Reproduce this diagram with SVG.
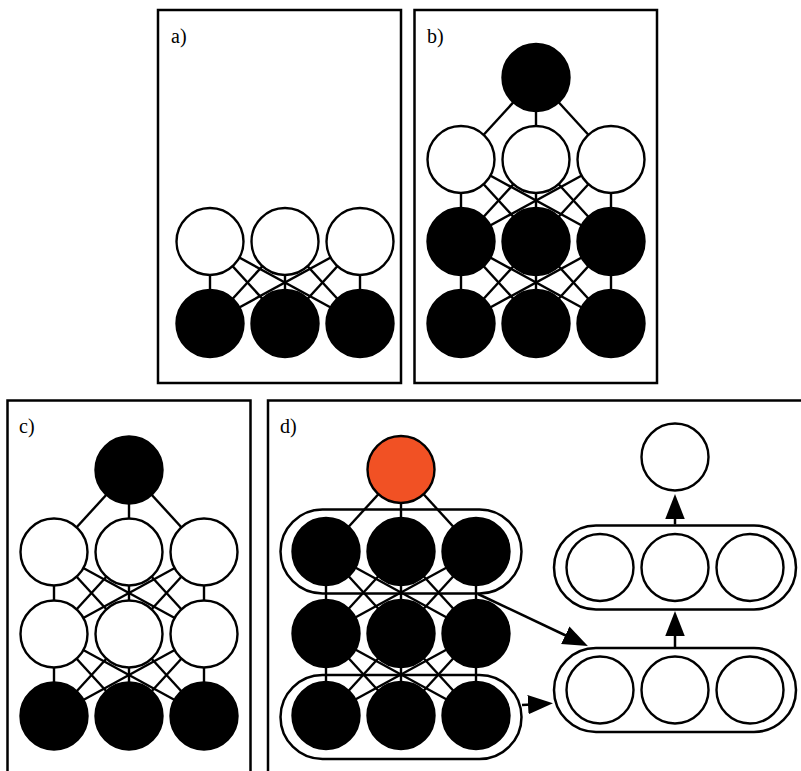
<svg xmlns="http://www.w3.org/2000/svg" width="801" height="771" viewBox="0 0 801 771">
<style>
.frame{fill:none;stroke:#000;stroke-width:2.5}
.lbl{font-family:"Liberation Serif","DejaVu Serif",serif;font-size:20px;fill:#000}
.e line{stroke:#000;stroke-width:2.4}
.w{fill:#fff;stroke:#000;stroke-width:2.4}
.k{fill:#000;stroke:#000;stroke-width:2.4}
.o{fill:#f15124;stroke:#000;stroke-width:2.4}
.pill{fill:none;stroke:#000;stroke-width:2.5}
.arr{stroke:#000;stroke-width:2.5;fill:none;marker-end:url(#ah)}
</style>
<defs>
<marker id="ah" markerUnits="userSpaceOnUse" markerWidth="27" markerHeight="20" refX="4" refY="9.75" orient="auto" viewBox="0 0 27 20">
<path d="M0,0 L25,9.75 L0,19.5 Z" fill="#000"/>
</marker>
</defs>
<rect fill="#fff" width="801" height="771"/>

<g id="frames">
<rect class="frame" x="158" y="10" width="243" height="373"/>
<rect class="frame" x="414.5" y="10" width="242.5" height="373"/>
<rect class="frame" x="7.5" y="400.5" width="243" height="400"/>
<rect class="frame" x="268" y="400.5" width="560" height="400"/>
</g>
<g id="labels">
<text class="lbl" x="171" y="43">a)</text>
<text class="lbl" x="427" y="43">b)</text>
<text class="lbl" x="19" y="433">c)</text>
<text class="lbl" x="280" y="433">d)</text>
</g>

<g id="pills">
<rect class="pill" x="280.5" y="509.5" width="241" height="84" rx="42"/>
<rect class="pill" x="280.5" y="675" width="241" height="84" rx="42"/>
<rect class="pill" x="554" y="525.5" width="242" height="84" rx="42"/>
<rect class="pill" x="554" y="648" width="242" height="84" rx="42"/>
</g>

<g id="connectors" class="e">
<!-- panel a -->
<line x1="210" y1="241.5" x2="210" y2="323.5"/><line x1="210" y1="241.5" x2="285" y2="323.5"/><line x1="210" y1="241.5" x2="360" y2="323.5"/>
<line x1="285" y1="241.5" x2="210" y2="323.5"/><line x1="285" y1="241.5" x2="285" y2="323.5"/><line x1="285" y1="241.5" x2="360" y2="323.5"/>
<line x1="360" y1="241.5" x2="210" y2="323.5"/><line x1="360" y1="241.5" x2="285" y2="323.5"/><line x1="360" y1="241.5" x2="360" y2="323.5"/>
<!-- panel b -->
<line x1="536" y1="77.5" x2="461" y2="159.5"/><line x1="536" y1="77.5" x2="536" y2="159.5"/><line x1="536" y1="77.5" x2="611" y2="159.5"/>
<line x1="461" y1="159.5" x2="461" y2="241.5"/><line x1="461" y1="159.5" x2="536" y2="241.5"/><line x1="461" y1="159.5" x2="611" y2="241.5"/>
<line x1="536" y1="159.5" x2="461" y2="241.5"/><line x1="536" y1="159.5" x2="536" y2="241.5"/><line x1="536" y1="159.5" x2="611" y2="241.5"/>
<line x1="611" y1="159.5" x2="461" y2="241.5"/><line x1="611" y1="159.5" x2="536" y2="241.5"/><line x1="611" y1="159.5" x2="611" y2="241.5"/>
<line x1="461" y1="241.5" x2="461" y2="323.5"/><line x1="461" y1="241.5" x2="536" y2="323.5"/><line x1="461" y1="241.5" x2="611" y2="323.5"/>
<line x1="536" y1="241.5" x2="461" y2="323.5"/><line x1="536" y1="241.5" x2="536" y2="323.5"/><line x1="536" y1="241.5" x2="611" y2="323.5"/>
<line x1="611" y1="241.5" x2="461" y2="323.5"/><line x1="611" y1="241.5" x2="536" y2="323.5"/><line x1="611" y1="241.5" x2="611" y2="323.5"/>
<!-- panel c -->
<line x1="129" y1="470" x2="54" y2="552"/><line x1="129" y1="470" x2="129" y2="552"/><line x1="129" y1="470" x2="204" y2="552"/>
<line x1="54" y1="552" x2="54" y2="634"/><line x1="54" y1="552" x2="129" y2="634"/><line x1="54" y1="552" x2="204" y2="634"/>
<line x1="129" y1="552" x2="54" y2="634"/><line x1="129" y1="552" x2="129" y2="634"/><line x1="129" y1="552" x2="204" y2="634"/>
<line x1="204" y1="552" x2="54" y2="634"/><line x1="204" y1="552" x2="129" y2="634"/><line x1="204" y1="552" x2="204" y2="634"/>
<line x1="54" y1="634" x2="54" y2="716"/><line x1="54" y1="634" x2="129" y2="716"/><line x1="54" y1="634" x2="204" y2="716"/>
<line x1="129" y1="634" x2="54" y2="716"/><line x1="129" y1="634" x2="129" y2="716"/><line x1="129" y1="634" x2="204" y2="716"/>
<line x1="204" y1="634" x2="54" y2="716"/><line x1="204" y1="634" x2="129" y2="716"/><line x1="204" y1="634" x2="204" y2="716"/>
<!-- panel d network -->
<line x1="401" y1="469.5" x2="326" y2="551.5"/><line x1="401" y1="469.5" x2="401" y2="551.5"/><line x1="401" y1="469.5" x2="476" y2="551.5"/>
<line x1="326" y1="551.5" x2="326" y2="633.5"/><line x1="326" y1="551.5" x2="401" y2="633.5"/><line x1="326" y1="551.5" x2="476" y2="633.5"/>
<line x1="401" y1="551.5" x2="326" y2="633.5"/><line x1="401" y1="551.5" x2="401" y2="633.5"/><line x1="401" y1="551.5" x2="476" y2="633.5"/>
<line x1="476" y1="551.5" x2="326" y2="633.5"/><line x1="476" y1="551.5" x2="401" y2="633.5"/><line x1="476" y1="551.5" x2="476" y2="633.5"/>
<line x1="326" y1="633.5" x2="326" y2="715.5"/><line x1="326" y1="633.5" x2="401" y2="715.5"/><line x1="326" y1="633.5" x2="476" y2="715.5"/>
<line x1="401" y1="633.5" x2="326" y2="715.5"/><line x1="401" y1="633.5" x2="401" y2="715.5"/><line x1="401" y1="633.5" x2="476" y2="715.5"/>
<line x1="476" y1="633.5" x2="326" y2="715.5"/><line x1="476" y1="633.5" x2="401" y2="715.5"/><line x1="476" y1="633.5" x2="476" y2="715.5"/>
<!-- panel d arrows -->
<path class="arr" d="M478,594 L568.9,637"/>
<path class="arr" d="M522,705 L532,704.4"/>
<path class="arr" d="M675,647 L675,632"/>
<path class="arr" d="M675,524.5 L675,515"/>
</g>

<g id="a_h1"><circle class="w" cx="210" cy="241.5" r="33.5"/></g>
<g id="a_h2"><circle class="w" cx="285" cy="241.5" r="33.5"/></g>
<g id="a_h3"><circle class="w" cx="360" cy="241.5" r="33.5"/></g>
<g id="a_v1"><circle class="k" cx="210" cy="323.5" r="33.5"/></g>
<g id="a_v2"><circle class="k" cx="285" cy="323.5" r="33.5"/></g>
<g id="a_v3"><circle class="k" cx="360" cy="323.5" r="33.5"/></g>

<g id="b_top"><circle class="k" cx="536" cy="77.5" r="33.5"/></g>
<g id="b_h1"><circle class="w" cx="461" cy="159.5" r="33.5"/></g>
<g id="b_h2"><circle class="w" cx="536" cy="159.5" r="33.5"/></g>
<g id="b_h3"><circle class="w" cx="611" cy="159.5" r="33.5"/></g>
<g id="b_m1"><circle class="k" cx="461" cy="241.5" r="33.5"/></g>
<g id="b_m2"><circle class="k" cx="536" cy="241.5" r="33.5"/></g>
<g id="b_m3"><circle class="k" cx="611" cy="241.5" r="33.5"/></g>
<g id="b_v1"><circle class="k" cx="461" cy="323.5" r="33.5"/></g>
<g id="b_v2"><circle class="k" cx="536" cy="323.5" r="33.5"/></g>
<g id="b_v3"><circle class="k" cx="611" cy="323.5" r="33.5"/></g>

<g id="c_top"><circle class="k" cx="129" cy="470" r="33.5"/></g>
<g id="c_h1"><circle class="w" cx="54" cy="552" r="33.5"/></g>
<g id="c_h2"><circle class="w" cx="129" cy="552" r="33.5"/></g>
<g id="c_h3"><circle class="w" cx="204" cy="552" r="33.5"/></g>
<g id="c_m1"><circle class="w" cx="54" cy="634" r="33.5"/></g>
<g id="c_m2"><circle class="w" cx="129" cy="634" r="33.5"/></g>
<g id="c_m3"><circle class="w" cx="204" cy="634" r="33.5"/></g>
<g id="c_v1"><circle class="k" cx="54" cy="716" r="33.5"/></g>
<g id="c_v2"><circle class="k" cx="129" cy="716" r="33.5"/></g>
<g id="c_v3"><circle class="k" cx="204" cy="716" r="33.5"/></g>

<g id="d_top"><circle class="o" cx="401" cy="469.5" r="33.5"/></g>
<g id="d_r1a"><circle class="k" cx="326" cy="551.5" r="33.5"/></g>
<g id="d_r1b"><circle class="k" cx="401" cy="551.5" r="33.5"/></g>
<g id="d_r1c"><circle class="k" cx="476" cy="551.5" r="33.5"/></g>
<g id="d_r2a"><circle class="k" cx="326" cy="633.5" r="33.5"/></g>
<g id="d_r2b"><circle class="k" cx="401" cy="633.5" r="33.5"/></g>
<g id="d_r2c"><circle class="k" cx="476" cy="633.5" r="33.5"/></g>
<g id="d_r3a"><circle class="k" cx="326" cy="715.5" r="33.5"/></g>
<g id="d_r3b"><circle class="k" cx="401" cy="715.5" r="33.5"/></g>
<g id="d_r3c"><circle class="k" cx="476" cy="715.5" r="33.5"/></g>

<g id="d_out"><circle class="w" cx="675" cy="457" r="33.5"/></g>
<g id="d_u1"><circle class="w" cx="600" cy="567.5" r="33.5"/></g>
<g id="d_u2"><circle class="w" cx="675" cy="567.5" r="33.5"/></g>
<g id="d_u3"><circle class="w" cx="750" cy="567.5" r="33.5"/></g>
<g id="d_l1"><circle class="w" cx="600" cy="690" r="33.5"/></g>
<g id="d_l2"><circle class="w" cx="675" cy="690" r="33.5"/></g>
<g id="d_l3"><circle class="w" cx="750" cy="690" r="33.5"/></g>
</svg>
